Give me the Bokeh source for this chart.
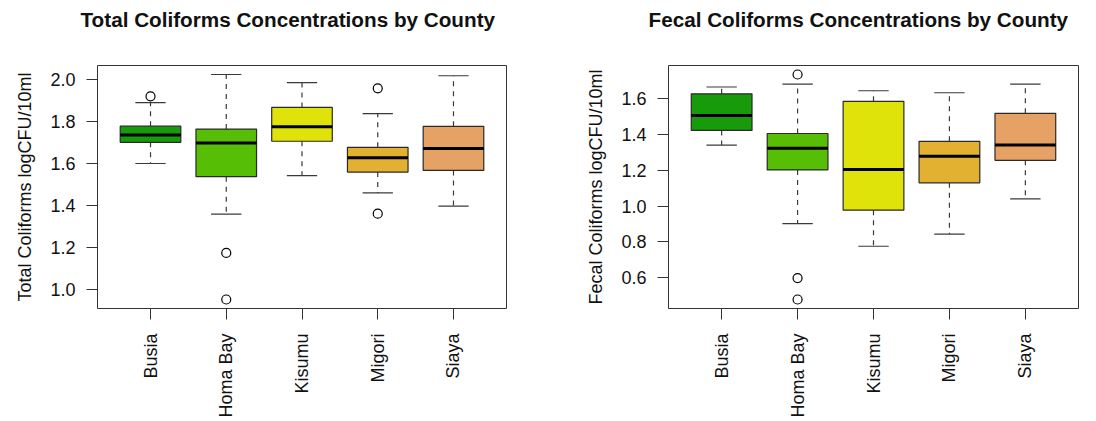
import math
from bokeh.plotting import figure
from bokeh.layouts import row
from bokeh.models import Range1d, FixedTicker, PrintfTickFormatter, Title
from bokeh.embed import file_html
from bokeh.resources import INLINE

counties = ["Busia", "Homa Bay", "Kisumu", "Migori", "Siaya"]
box_colors = ["#179B0B", "#55BE05", "#E0E30A", "#E2B132", "#E6A165"]

# Total coliforms (logCFU/10ml) - boxplot statistics
tc_lower_whisker = [1.601, 1.360, 1.543, 1.461, 1.398]
tc_q1 = [1.702, 1.538, 1.707, 1.560, 1.568]
tc_median = [1.737, 1.699, 1.776, 1.628, 1.672]
tc_q3 = [1.779, 1.765, 1.868, 1.678, 1.778]
tc_upper_whisker = [1.891, 2.025, 1.986, 1.839, 2.019]
tc_outlier_county = ["Busia", "Homa Bay", "Homa Bay", "Migori", "Migori"]
tc_outlier_value = [1.921, 1.175, 0.953, 1.959, 1.362]
tc_yticks = [1.0, 1.2, 1.4, 1.6, 1.8, 2.0]

# Fecal coliforms (logCFU/10ml)
fc_lower_whisker = [1.342, 0.903, 0.776, 0.844, 1.041]
fc_q1 = [1.424, 1.203, 0.978, 1.131, 1.257]
fc_median = [1.507, 1.324, 1.206, 1.279, 1.342]
fc_q3 = [1.629, 1.407, 1.587, 1.363, 1.520]
fc_upper_whisker = [1.667, 1.683, 1.646, 1.635, 1.683]
fc_outlier_county = ["Homa Bay", "Homa Bay", "Homa Bay"]
fc_outlier_value = [1.737, 0.598, 0.478]
fc_yticks = [0.6, 0.8, 1.0, 1.2, 1.4, 1.6]

FONT = "Liberation Sans"
BOXW = 0.8
CAPW = 0.4
WHISKER = "#3a3a3a"


def make_plot(title, ylabel, lw, q1, med, q3, uw, out_c, out_v, yticks,
              width, border_left, border_right, title_offset):
    xs = [i + 1 for i in range(len(counties))]
    allv = lw + uw + out_v
    lo, hi = min(allv), max(allv)
    pad = (hi - lo) * 0.04
    p = figure(width=width, height=420, output_backend="svg", toolbar_location=None,
               x_range=Range1d(0.3, len(counties) + 0.7),
               y_range=Range1d(lo - pad, hi + pad),
               min_border_left=border_left, min_border_right=border_right,
               min_border_top=65, min_border_bottom=111)
    p.grid.visible = False
    p.outline_line_color = "#333333"
    p.outline_line_width = 1
    p.background_fill_color = "white"
    p.border_fill_color = "white"

    # whiskers (dashed)
    p.segment(x0=xs, y0=q3, x1=xs, y1=uw, line_color=WHISKER, line_width=1.2, line_dash="5 5")
    p.segment(x0=xs, y0=q1, x1=xs, y1=lw, line_color=WHISKER, line_width=1.2, line_dash="5 5")
    # caps
    p.segment(x0=[x - CAPW / 2 for x in xs], y0=uw, x1=[x + CAPW / 2 for x in xs], y1=uw,
              line_color=WHISKER, line_width=1.2)
    p.segment(x0=[x - CAPW / 2 for x in xs], y0=lw, x1=[x + CAPW / 2 for x in xs], y1=lw,
              line_color=WHISKER, line_width=1.2)
    # boxes
    p.vbar(x=xs, width=BOXW, bottom=q1, top=q3, fill_color=box_colors,
           line_color="#2a2a2a", line_width=1.2)
    # medians
    p.segment(x0=[x - BOXW / 2 for x in xs], y0=med, x1=[x + BOXW / 2 for x in xs], y1=med,
              line_color="black", line_width=3)
    # outliers
    ox = [counties.index(c) + 1 for c in out_c]
    p.scatter(x=ox, y=out_v, marker="circle", size=9, fill_color=None,
              line_color="black", line_width=1.2)

    # x axis
    xa = p.xaxis[0]
    xa.ticker = FixedTicker(ticks=xs)
    xa.major_label_overrides = {x: c for x, c in zip(xs, counties)}
    xa.major_label_orientation = math.pi / 2
    xa.major_label_standoff = 14
    xa.axis_line_color = None
    xa.major_tick_out = 11
    xa.major_tick_in = 0
    xa.major_tick_line_color = "#333333"
    xa.minor_tick_line_color = None
    xa.major_label_text_font = FONT
    xa.major_label_text_font_size = "18px"
    xa.major_label_text_color = "#111111"

    # y axis
    ya = p.yaxis[0]
    ya.ticker = FixedTicker(ticks=yticks)
    ya.formatter = PrintfTickFormatter(format="%.1f")
    ya.axis_line_color = None
    ya.major_tick_out = 11
    ya.major_tick_in = 0
    ya.major_tick_line_color = "#333333"
    ya.minor_tick_line_color = None
    ya.major_label_standoff = 11
    ya.major_label_text_font = FONT
    ya.major_label_text_font_size = "18px"
    ya.major_label_text_color = "#111111"
    ya.axis_label = ylabel
    ya.axis_label_text_font = FONT
    ya.axis_label_text_font_size = "18px"
    ya.axis_label_text_font_style = "normal"
    ya.axis_label_text_color = "#111111"
    ya.axis_label_standoff = 12

    # spacer between frame and title, then the title itself
    p.add_layout(Title(text=" ", text_font_size="1px", standoff=32), "above")
    p.add_layout(Title(text=title, align="left", offset=title_offset, standoff=0,
                       vertical_align="bottom", text_font=FONT, text_font_size="20.7px",
                       text_font_style="bold", text_color="#111111"), "above")
    return p


p1 = make_plot("Total Coliforms Concentrations by County", "Total Coliforms logCFU/10ml",
               tc_lower_whisker, tc_q1, tc_median, tc_q3, tc_upper_whisker,
               tc_outlier_county, tc_outlier_value, tc_yticks, 548, 97, 42, -17)
p2 = make_plot("Fecal Coliforms Concentrations by County", "Fecal Coliforms logCFU/10ml",
               fc_lower_whisker, fc_q1, fc_median, fc_q3, fc_upper_whisker,
               fc_outlier_county, fc_outlier_value, fc_yticks, 548, 120, 18, -20)

layout = row(p1, p2)
open("out.html", "w").write(file_html(layout, INLINE))
